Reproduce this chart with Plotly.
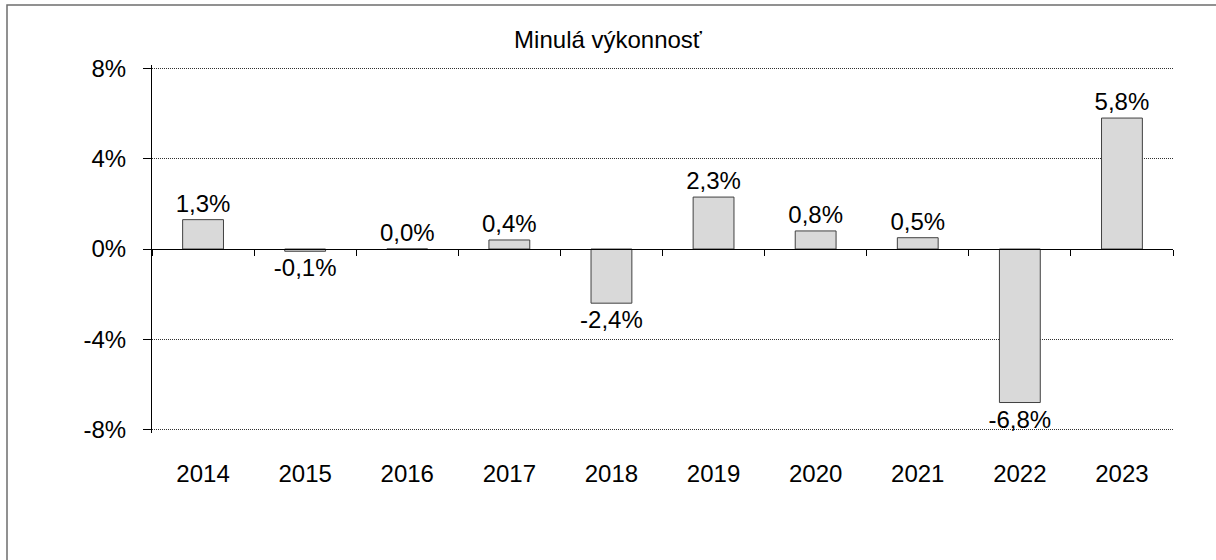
import plotly.graph_objects as go

# Daten
years = ["2014", "2015", "2016", "2017", "2018", "2019", "2020", "2021", "2022", "2023"]
returns = [1.3, -0.1, 0.0, 0.4, -2.4, 2.3, 0.8, 0.5, -6.8, 5.8]
y_tickvals = [-8, -4, 0, 4, 8]
y_ticktext = ["-8%", "-4%", "0%", "4%", "8%"]
title_text = "Minulá výkonnosť"

W, H = 1216, 560
L, R, T, B = 152, 43, 65, 127
pw, ph = W - L - R, H - T - B
YPAD = 0.15  # etwas Luft, damit die Gitterlinien bei ±8 % gezeichnet werden

FONT = "Liberation Sans, Arial, sans-serif"
FS = 24

fig = go.Figure()
fig.add_trace(go.Bar(
    x=years, y=returns,
    width=0.4,
    marker=dict(color="#d9d9d9", line=dict(color="#404040", width=1)),
    texttemplate="%{y:.1f}%",
    textposition="outside",
    constraintext="none",
    textfont=dict(family=FONT, size=FS, color="black"),
    cliponaxis=False,
    showlegend=False,
    hoverinfo="skip",
))
# unsichtbare Hilfsspur nur für die Jahresbeschriftung unten
fig.add_trace(go.Scatter(
    x=years, y=returns, xaxis="x2", mode="markers",
    marker=dict(opacity=0), showlegend=False, hoverinfo="skip",
))

fig.update_layout(
    width=W, height=H,
    margin=dict(l=L, r=R, t=T, b=B),
    paper_bgcolor="white", plot_bgcolor="white",
    separators=", ",
    font=dict(family=FONT, size=FS, color="black"),
    title=dict(text=title_text, x=0.5, xanchor="center", y=1 - 40 / H,
               yanchor="middle", font=dict(family=FONT, size=FS, color="black")),
    xaxis=dict(
        type="category", range=[-0.5, 9.5],
        anchor="free", position=0.5,
        showline=True, linecolor="black", linewidth=1,
        ticks="outside", tickson="boundaries", ticklen=6, tickcolor="black",
        showticklabels=False, showgrid=False, zeroline=False,
    ),
    xaxis2=dict(
        type="category", range=[-0.5, 9.5],
        overlaying="x", anchor="y", side="bottom",
        showline=False, ticks="", showgrid=False, zeroline=False,
        ticklabelstandoff=24,
        tickfont=dict(family=FONT, size=FS, color="black"),
    ),
    yaxis=dict(
        range=[-8 - YPAD, 8 + YPAD],
        tickvals=y_tickvals, ticktext=y_ticktext,
        showline=True, linecolor="black", linewidth=1,
        ticks="outside", ticklen=8, tickcolor="black",
        ticklabelstandoff=12,
        showgrid=True, gridcolor="#303030", gridwidth=1, griddash="1px,1px",
        zeroline=False,
        tickfont=dict(family=FONT, size=FS, color="black"),
    ),
    shapes=[dict(
        type="rect", xref="paper", yref="paper",
        x0=(7 - L) / pw, x1=(W + 5 - L) / pw,
        y0=-(B + 5) / ph, y1=1 + (T - 5) / ph,
        line=dict(color="#6e6e6e", width=1.5), fillcolor="rgba(0,0,0,0)",
        layer="below",
    )],
)

fig.write_html("out.html", config={"displayModeBar": False},
               post_script="document.body.style.margin='0';")
